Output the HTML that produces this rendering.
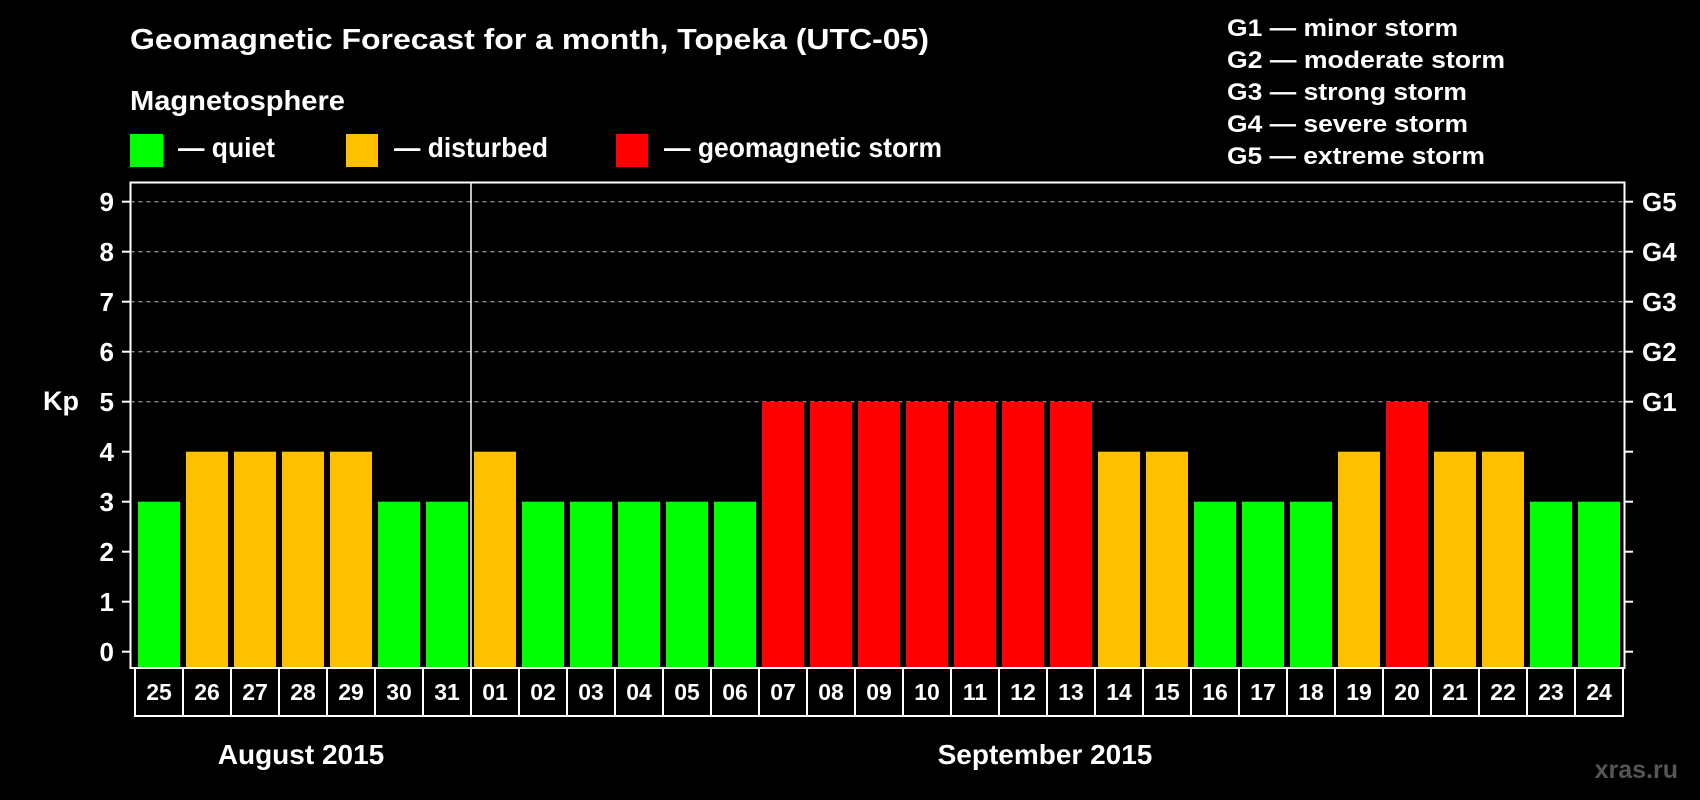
<!DOCTYPE html>
<html><head><meta charset="utf-8"><style>
html,body{margin:0;padding:0;background:#000;width:1700px;height:800px;overflow:hidden}
svg{display:block}
text{font-family:"Liberation Sans",sans-serif;font-weight:bold;fill:#fff}
.narrow{font-family:"Liberation Sans Narrow","Liberation Sans",sans-serif}
</style></head><body>
<svg id="chart" width="1700" height="800" viewBox="0 0 1700 800">
<rect width="1700" height="800" fill="#000"/>
<text class="narrow" x="130" y="49" font-size="29" textLength="799" lengthAdjust="spacingAndGlyphs">Geomagnetic Forecast for a month, Topeka (UTC-05)</text>
<text class="narrow" x="130" y="110" font-size="28" textLength="215" lengthAdjust="spacingAndGlyphs">Magnetosphere</text>
<g><rect x="130" y="134" width="33" height="33" fill="#00ff00"/><text class="narrow" x="178" y="157" font-size="28" textLength="97" lengthAdjust="spacingAndGlyphs">— quiet</text></g>
<g><rect x="346" y="134" width="32" height="33" fill="#ffc000"/><text class="narrow" x="394" y="157" font-size="28" textLength="154" lengthAdjust="spacingAndGlyphs">— disturbed</text></g>
<g><rect x="616" y="134" width="32" height="33" fill="#ff0000"/><text class="narrow" x="664" y="157" font-size="28" textLength="278" lengthAdjust="spacingAndGlyphs">— geomagnetic storm</text></g>
<g font-size="24">
<text x="1227" y="36" textLength="231" lengthAdjust="spacingAndGlyphs">G1 — minor storm</text>
<text x="1227" y="68" textLength="278" lengthAdjust="spacingAndGlyphs">G2 — moderate storm</text>
<text x="1227" y="100" textLength="240" lengthAdjust="spacingAndGlyphs">G3 — strong storm</text>
<text x="1227" y="132" textLength="241" lengthAdjust="spacingAndGlyphs">G4 — severe storm</text>
<text x="1227" y="164" textLength="258" lengthAdjust="spacingAndGlyphs">G5 — extreme storm</text>
</g>
<text x="43" y="410" font-size="27">Kp</text>
<g id="plot"></g>
<text x="301" y="764" font-size="28" text-anchor="middle">August 2015</text>
<text x="1045" y="764" font-size="28" text-anchor="middle">September 2015</text>
<text x="1678" y="778" font-size="25" text-anchor="end" style="fill:#555">xras.ru</text>
</svg>
<script>
const days = ["25","26","27","28","29","30","31","01","02","03","04","05","06","07","08","09","10","11","12","13","14","15","16","17","18","19","20","21","22","23","24"];
const kpValues = [3,4,4,4,4,3,3,4,3,3,3,3,3,5,5,5,5,5,5,5,4,4,3,3,3,4,5,4,4,3,3];
const yTicks = [0,1,2,3,4,5,6,7,8,9];
const gLabels = ["G1","G2","G3","G4","G5"];
const gLevels = [5,6,7,8,9];
const monthBreakIndex = 7;

const NS="http://www.w3.org/2000/svg";
const plot=document.getElementById('plot');
const L=130.5,R=1624.5,T=182.5,B=668;
const slot0=135, pitch=48, barW=42;
const y=v=>651.7-v*50;
const x=i=>slot0+i*pitch;
function mk(tag,attrs,parent){const e=document.createElementNS(NS,tag);for(const k in attrs)e.setAttribute(k,attrs[k]);(parent||plot).appendChild(e);return e;}
function color(v){return v>=5?"#ff0000":v>=4?"#ffc000":"#00ff00";}

gLevels.forEach((v,i)=>{
  const g=mk('line',{x1:L,x2:R,y1:y(v),y2:y(v),stroke:"#8a8a8a","stroke-width":1.3,"stroke-dasharray":"4 4"});
  
  
});
kpValues.forEach((v,i)=>{
  const r=mk('rect',{x:x(i)+3,y:y(v),width:barW,height:B-y(v),fill:color(v)});
  
  
});
const fr=mk('rect',{x:L,y:T,width:R-L,height:B-T,fill:"none",stroke:"#fff","stroke-width":2});


const sep=mk('line',{x1:x(monthBreakIndex),x2:x(monthBreakIndex),y1:T,y2:B,stroke:"#fff","stroke-width":1.5});


yTicks.forEach(v=>{
  mk('line',{x1:122,x2:L,y1:y(v),y2:y(v),stroke:"#fff","stroke-width":2});
  mk('line',{x1:R,x2:1633,y1:y(v),y2:y(v),stroke:"#fff","stroke-width":2});
  const t=mk('text',{x:114,y:y(v)+9.5,"font-size":26,"text-anchor":"end"});
  t.textContent=v;
  
  
});
gLabels.forEach((g,i)=>{
  const t=mk('text',{x:1642,y:y(gLevels[i])+9.5,"font-size":26});
  t.textContent=g;
  
  
});
days.forEach((d,i)=>{
  const b=mk('rect',{x:x(i),y:B,width:pitch,height:48,fill:"#000",stroke:"#fff","stroke-width":2});
  
  
  const t=mk('text',{x:x(i)+pitch/2,y:B+32,"font-size":23,"text-anchor":"middle"});
  t.textContent=d;
  
  
});
</script>
</body></html>
